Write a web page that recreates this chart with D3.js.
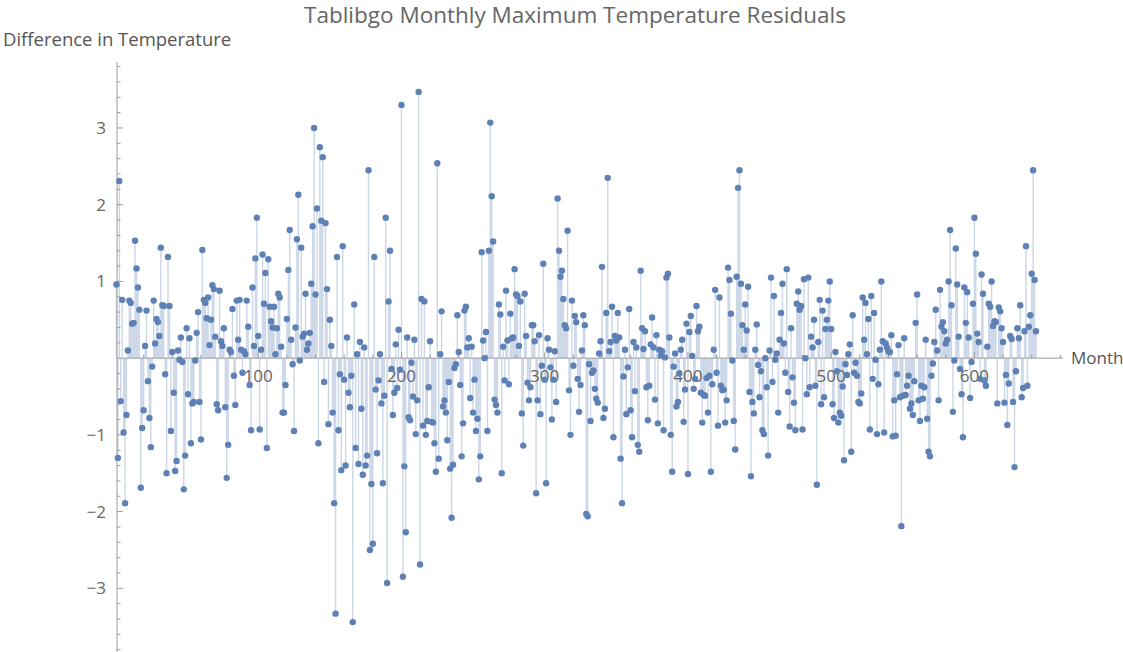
<!DOCTYPE html>
<html><head><meta charset="utf-8">
<script src="https://cdn.jsdelivr.net/npm/d3@7"></script>
<style>
body{margin:0;background:#fff;}
text{font-family:"Open Sans","DejaVu Sans",sans-serif;}
</style>
</head><body>
<svg id="chart" width="1123" height="652"></svg>
<script>
const titleText = "Tablibgo Monthly Maximum Temperature Residuals";
const yAxisLabel = "Difference in Temperature";
const xAxisLabel = "Month";
const xTickValues = [100, 200, 300, 400, 500, 600];
const yTickValues = [-3, -2, -1, 1, 2, 3];
const residuals = [
0.96,-1.30,2.31,-0.56,0.76,-0.97,-1.89,-0.74,0.10,0.75,
0.72,0.45,0.46,1.53,1.17,0.92,0.63,-1.69,-0.91,-0.68,
0.16,0.62,-0.30,-0.78,-1.16,-0.11,0.75,0.19,0.51,0.47,
0.29,1.44,0.69,0.68,-0.21,-1.50,1.32,0.68,-0.95,0.08,
-0.45,-1.47,-1.34,0.10,-0.02,0.27,-0.05,-1.71,-1.27,0.39,
-0.47,
0.26,-1.11,-0.59,-0.57,-0.03,0.33,0.60,-0.57,-1.06,1.41,
0.76,0.72,0.52,0.79,0.17,0.50,0.95,0.90,0.28,-0.60,
-0.68,0.88,0.22,0.16,0.39,-0.64,-1.56,-1.13,0.11,0.08,
0.64,-0.23,-0.61,0.75,0.24,0.76,0.11,-0.19,0.09,0.05,
0.75,0.41,-0.35,-0.94,0.92,0.16,1.30,1.83,0.29,
-0.93,0.11,1.35,0.71,1.11,-1.17,
1.29,0.67,0.48,0.40,0.67,0.05,0.39,0.84,0.79,0.15,
-0.71,-0.71,-0.35,0.51,1.15,1.67,0.24,-0.08,-0.95,0.40,
1.55,2.13,-0.03,1.44,0.28,0.32,0.84,0.11,0.19,
0.33,0.97,1.72,3.00,0.83,1.95,-1.11,2.75,1.79,2.62,
-0.31,1.76,0.90,-0.86,0.50,0.16,-0.71,-1.89,-3.33,1.32,
-0.94,-0.21,-1.46,1.46,-0.28,
-1.40,0.27,-0.45,-0.64,-0.23,-3.44,0.70,-1.17,0.05,-1.38,
0.21,-0.66,-1.52,0.14,-1.40,-1.27,2.45,-2.50,-1.64,-2.42,
1.32,-0.41,-1.24,-0.29,0.05,-0.59,-1.63,-0.49,1.83,-2.93,
0.74,1.40,-0.14,-0.74,-0.45,0.18,-0.39,0.37,-0.15,
3.30,-2.85,-1.41,-2.27,0.27,-0.77,-0.81,-0.06,-0.50,0.24,
-0.99,-0.55,3.47,-2.69,0.77,-0.88,
0.74,-1.00,-0.82,-0.38,0.22,-0.83,-0.84,-1.11,-1.48,2.54,
-1.31,0.05,0.61,-0.63,-0.55,-0.71,-1.07,-0.31,-1.44,
-2.08,-1.39,-0.13,-0.08,0.56,0.08,-0.35,-1.28,-0.85,0.62,
0.67,0.14,0.26,-0.52,0.15,-0.71,-0.28,-0.95,-0.79,-1.58,
-1.28,1.38,0.23,0.00,0.34,-0.95,1.40,3.07,2.11,1.52,
-0.54,-0.61,-0.71,0.70,0.57,-1.50,
0.15,-0.29,0.88,0.23,-0.34,0.58,0.26,0.27,1.16,0.83,
0.81,0.16,0.74,-0.72,-1.14,0.84,0.29,-0.32,-0.55,-0.38,
0.43,0.43,0.22,-1.76,-0.55,0.30,-0.73,-0.10,1.23,
-0.28,-1.63,0.26,0.11,-0.12,-0.80,-0.28,0.09,-0.57,2.08,
1.40,1.06,1.14,0.77,0.43,0.39,1.66,-0.42,-1.00,0.75,
-0.10,0.55,0.47,-0.27,-0.70,-0.35,
0.10,0.56,0.43,-2.03,-2.06,-0.08,-0.82,-0.19,-0.16,-0.40,-0.53,
-0.58,0.06,0.22,1.19,-0.78,-0.66,0.59,2.35,0.09,0.21,
0.67,-1.03,0.29,0.23,0.59,0.27,-1.31,-1.89,-0.24,0.11,
-0.73,-0.12,0.64,-0.68,-1.03,0.21,-0.43,0.14,-1.13,-1.22,
1.14,0.39,0.12,0.35,-0.38,-0.81,-0.36,0.18,0.53,
0.14,-0.54,0.30,-0.85,0.11,
0.03,0.09,-0.94,0.01,1.05,1.10,0.27,-1.00,-1.48,-0.11,
0.06,-0.63,-0.57,-0.20,0.11,0.24,-0.83,-0.41,0.45,
-1.51,0.34,0.55,0.03,-0.40,-0.27,0.68,0.35,0.41,-0.45,
-0.84,-0.48,-0.49,-0.26,-0.71,-0.23,-1.48,-0.34,0.11,0.89,
-0.19,-0.88,0.79,-0.36,-0.42,-0.41,-0.84,-0.55,1.18,1.02,
0.58,-0.03,-0.82,
-1.19,1.06,2.22,2.45,0.97,0.43,0.11,0.70,0.36,
0.93,-0.44,-1.54,-0.57,-0.72,0.11,0.44,-0.09,-0.51,-0.17,
-0.94,-0.99,0.00,-0.38,-1.27,0.10,1.05,-0.31,0.81,-0.02,
0.06,-0.71,0.24,0.59,0.97,0.19,-0.19,1.16,-0.44,-0.89,
0.39,-0.25,-0.58,-0.94,0.71,0.87,0.63,0.68,-0.93,1.03,
0.00,-0.47,1.05,-0.38,0.28,
0.14,0.50,-0.36,-1.65,0.21,0.76,-0.60,0.62,-0.51,0.38,
0.50,0.75,1.00,0.38,-0.60,-0.78,0.08,-0.17,-0.84,-0.71,
-0.75,-0.37,-1.33,-0.08,-0.22,0.05,0.18,-1.22,0.56,-0.19,
-0.06,-0.23,-0.57,-0.59,-0.46,0.79,0.24,0.72,0.05,
0.51,-0.93,0.81,-0.27,0.59,-0.02,-0.99,-0.34,0.11,1.00,
0.22,-0.97,0.19,0.14,
0.09,0.08,0.30,-1.02,-0.55,-1.01,-0.21,0.17,-0.51,
-2.19,-0.49,0.26,-0.48,-0.36,-0.23,-0.66,-0.59,-0.74,-0.30,
0.46,0.83,-0.55,-0.82,-0.36,-0.53,-0.38,0.24,-0.79,
-1.22,-1.28,-0.23,-0.07,0.21,0.63,0.10,-0.55,0.89,0.41,
0.47,0.35,0.19,0.24,1.00,1.67,0.69,-0.70,-0.03,1.43,
0.96,0.28,-0.14,-0.47,-1.03,0.92,0.46,0.86,
0.27,-0.52,-0.05,0.71,1.83,1.36,0.32,0.21,-0.27,1.09,
0.84,-0.29,-0.36,0.15,0.71,0.67,1.00,0.42,0.48,0.47,
-0.59,0.66,0.61,0.39,0.21,-0.58,-0.22,-0.87,-0.33,0.29,
0.25,-0.57,-1.42,-0.17,0.39,0.26,0.69,-0.51,-0.39,0.35,
1.46,-0.36,0.41,0.56,1.10,2.45,1.02,0.35
];
const months = residuals.map((d, i) => i + 1);

const svg = d3.select("#chart");
const N = residuals.length;
const x = d3.scaleLinear().domain([0, N]).range([115, 1036]);
const y = d3.scaleLinear().domain([-3.83, 3.86]).range([652, 62]);
const axisColor = "#9a9a9a";
const textColor = "#666";
const dotColor = "#5E81B5";

// stems
svg.append("g").selectAll("line").data(residuals).join("line")
  .attr("x1", (d, i) => x(months[i])).attr("x2", (d, i) => x(months[i]))
  .attr("y1", y(0)).attr("y2", d => y(d))
  .attr("stroke", dotColor).attr("stroke-opacity", 0.32).attr("stroke-width", 1.4);

// x axis
const xAxisG = svg.append("g");
const xMinPlot = x.invert(117), xMaxPlot = x.invert(1063);
xAxisG.append("line").attr("x1", x(xMinPlot)).attr("x2", x(xMaxPlot))
  .attr("y1", y(0)).attr("y2", y(0)).attr("stroke", axisColor).attr("stroke-width", 1);
const xMinor = d3.range(20, 680, 20).filter(v => v % 100 !== 0 && v <= xMaxPlot);
xAxisG.selectAll(".xmin").data(xMinor).join("line")
  .attr("x1", d => x(d)).attr("x2", d => x(d)).attr("y1", y(0)).attr("y2", y(0) - 3.5)
  .attr("stroke", axisColor);
xAxisG.selectAll(".xmaj").data(xTickValues).join("line")
  .attr("x1", d => x(d)).attr("x2", d => x(d)).attr("y1", y(0)).attr("y2", y(0) - 6)
  .attr("stroke", axisColor);
xAxisG.selectAll("text").data(xTickValues).join("text")
  .attr("x", d => x(d)).attr("y", y(0) + 24).attr("text-anchor", "middle")
  .attr("font-size", 17).attr("fill", textColor).text(d => d);

// y axis
const yAxisG = svg.append("g");
const ax = x(xMinPlot);
yAxisG.append("line").attr("x1", ax).attr("x2", ax).attr("y1", 62).attr("y2", 652)
  .attr("stroke", axisColor);
const yMinor = d3.range(-3.8, 3.81, 0.2).map(v => Math.round(v * 10) / 10)
  .filter(v => Math.abs(v - Math.round(v)) > 0.01);
yAxisG.selectAll(".ymin").data(yMinor).join("line")
  .attr("x1", ax).attr("x2", ax + 3.5).attr("y1", d => y(d)).attr("y2", d => y(d))
  .attr("stroke", axisColor);
yAxisG.selectAll(".ymaj").data(yTickValues).join("line")
  .attr("x1", ax).attr("x2", ax + 6).attr("y1", d => y(d)).attr("y2", d => y(d))
  .attr("stroke", axisColor);
const fmt = d3.format("d");
yAxisG.selectAll("text").data(yTickValues).join("text")
  .attr("x", ax - 11).attr("y", d => y(d) + 6).attr("text-anchor", "end")
  .attr("font-size", 17).attr("fill", textColor).text(d => fmt(d));

// dots
svg.append("g").selectAll("circle").data(residuals).join("circle")
  .attr("cx", (d, i) => x(months[i])).attr("cy", d => y(d)).attr("r", 3.2)
  .attr("fill", dotColor);

// labels
svg.append("text").attr("x", 575).attr("y", 23).attr("text-anchor", "middle")
  .attr("font-size", 22.5).attr("fill", textColor).text(titleText);
svg.append("text").attr("x", 3).attr("y", 46).attr("font-size", 18.5)
  .attr("fill", "#555").text(yAxisLabel);
svg.append("text").attr("x", 1071).attr("y", y(0) + 6).attr("font-size", 17)
  .attr("fill", "#555").text(xAxisLabel);
</script>
</body></html>
